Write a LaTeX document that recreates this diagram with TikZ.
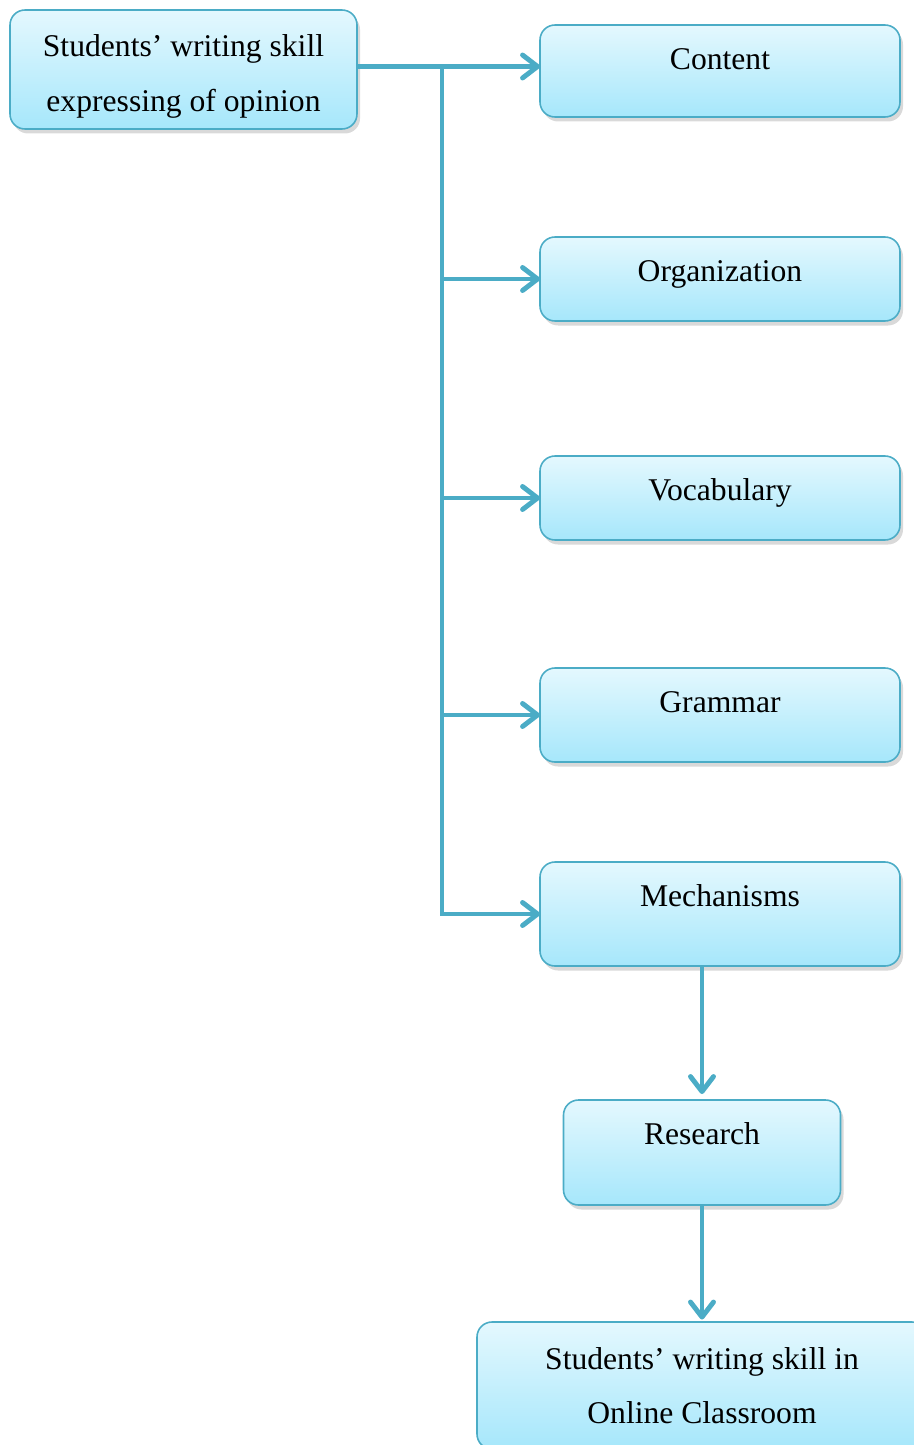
\documentclass[tikz,border=0pt]{standalone}
\usepackage{fontspec}
\setmainfont{Liberation Serif}
\usetikzlibrary{arrows.meta,positioning,shadows}
\definecolor{aqua}{HTML}{4BACC6}
\definecolor{celltop}{HTML}{E4F8FE}
\definecolor{cellbot}{HTML}{A6E7FB}

\begin{document}
\begin{tikzpicture}[
    pbox/.style={rectangle, rounded corners=0.3cm, draw=aqua, line width=0.9pt, outer sep=0pt, top color=celltop, bottom color=cellbot, minimum width=7.2cm, align=center, font=\fontsize{18}{31}\selectfont, drop shadow={shadow xshift=0.6mm, shadow yshift=-0.9mm, opacity=0.3}},
    tbox/.style={pbox, inner ysep=0pt, text height=0.89cm, text depth=#1},
    link/.style={aqua, line width=2.8pt},
    arrow/.style={link, -{Straight Barb[length=0.3cm, width=0.46cm, round]}}
]
\useasboundingbox (0,0) rectangle (18.26,-28.9);

% source
\node (src) [pbox, minimum width=6.94cm, minimum height=2.38cm] at (3.67,-1.39) {\rule{0pt}{0.72cm}Students' writing skill\\expressing of opinion};

% right column
\node (content) [tbox=0.95cm] at (14.4,-1.42) {Content};
\node (org) [tbox=0.79cm, below=2.4cm of content] {Organization};
\node (voc) [tbox=0.79cm, below=2.7cm of org] {Vocabulary};
\node (gram) [tbox=0.99cm, below=2.56cm of voc] {Grammar};
\node (mech) [tbox=1.19cm, below=2.0cm of gram] {Mechanisms};

% lower part
\node (res) [tbox=1.21cm, minimum width=5.54cm, below=2.68cm of mech, xshift=-0.36cm] {Research};
\node (goal) [pbox, minimum width=9.0cm, minimum height=2.54cm, below=2.34cm of res] {Students' writing skill in\\Online Classroom};

% connectors
\coordinate (trunk) at (8.84,0);
\draw [arrow] ([yshift=0.06cm]src.east) -- ([yshift=0.06cm]src.east -| content.west);
\draw [link] ([yshift=0.06cm]trunk |- src.east) -- ([yshift=-0.03cm]trunk |- mech.west);
\foreach \n in {org,voc,gram,mech}
    \draw [arrow] (trunk |- \n.west) -- (\n.west);
\draw [arrow] (res.north |- mech.south) -- ([yshift=0.12cm]res.north);
\draw [arrow] (res) -- ([yshift=0.05cm]goal.north);

\end{tikzpicture}
\end{document}
